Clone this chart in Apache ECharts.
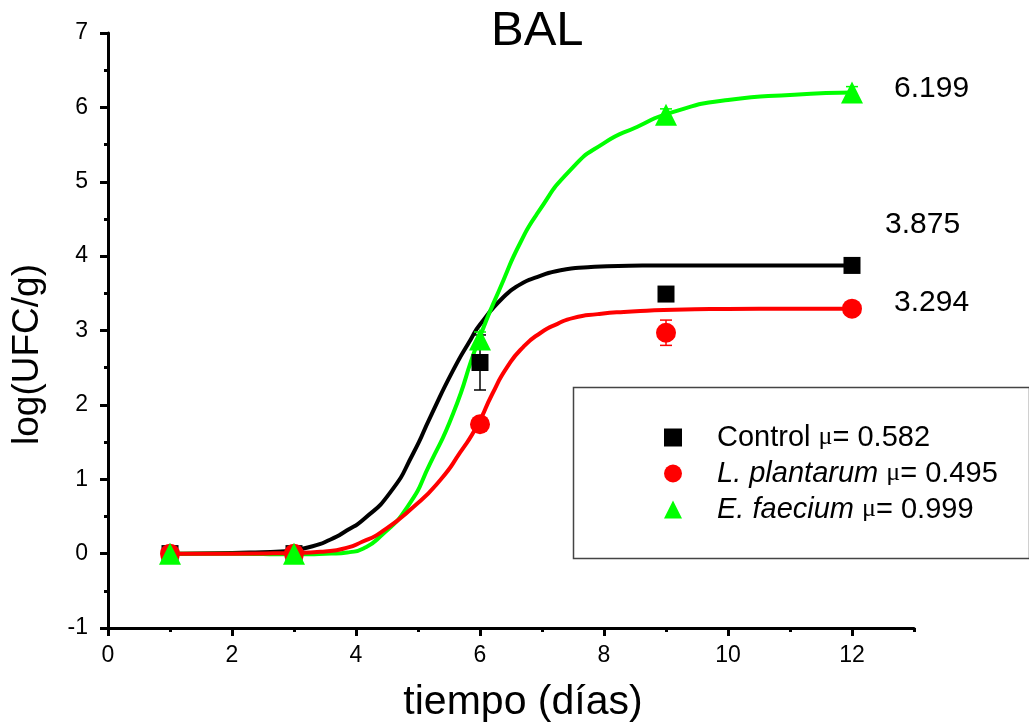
<!DOCTYPE html>
<html>
<head>
<meta charset="utf-8">
<script src="https://cdn.jsdelivr.net/npm/echarts@6/dist/echarts.min.js"></script>
<style>
  html, body { margin: 0; padding: 0; background: #fff; }
  #chart { width: 1029px; height: 725px; }
</style>
</head>
<body>
<div id="chart"></div>
<script>
// Sampling days and measured counts (mean ± error)
const days = [1, 3, 6, 9, 12];
const controlMean = [0.0, 0.0, 2.57, 3.49, 3.875];
const controlErr = [0.03, 0.03, 0.37, 0.05, 0.05];
const plantarumMean = [0.0, 0.0, 1.74, 2.97, 3.294];
const plantarumErr = [0.03, 0.03, 0.05, 0.17, 0.04];
const faeciumMean = [0.0, 0.0, 2.88, 5.9, 6.199];
const faeciumErr = [0.03, 0.03, 0.1, 0.08, 0.08];

// Fitted growth curves
const controlFitX = [1, 2, 2.78, 3.3, 3.59, 3.85, 4.12, 4.55, 4.93, 5.2, 5.57, 5.85, 6.0, 6.38, 6.65, 6.93, 7.3, 7.74, 8.4, 9.08, 10, 11, 12];
const controlFitY = [0, 0.01, 0.03, 0.1, 0.19, 0.31, 0.46, 0.82, 1.36, 1.84, 2.47, 2.88, 3.08, 3.45, 3.62, 3.72, 3.81, 3.85, 3.87, 3.875, 3.875, 3.875, 3.875];
const plantarumFitX = [1, 2, 3, 3.5, 3.86, 4.1, 4.39, 4.93, 5.36, 5.68, 5.96, 6.2, 6.44, 6.7, 6.98, 7.25, 7.51, 7.9, 8.32, 9.13, 10, 11, 12];
const plantarumFitY = [0, 0, 0.01, 0.03, 0.08, 0.16, 0.28, 0.63, 0.99, 1.36, 1.73, 2.15, 2.51, 2.78, 2.97, 3.09, 3.17, 3.22, 3.25, 3.28, 3.29, 3.294, 3.294];
const faeciumFitX = [1, 2, 3, 3.6, 3.9, 4.12, 4.39, 4.83, 5.2, 5.57, 5.96, 6.38, 6.65, 6.93, 7.46, 8.0, 8.54, 9.08, 10, 11.07, 12];
const faeciumFitY = [0, 0, -0.01, 0.0, 0.02, 0.07, 0.23, 0.63, 1.22, 1.89, 2.83, 3.68, 4.18, 4.58, 5.16, 5.52, 5.74, 5.93, 6.10, 6.17, 6.199];

// Specific growth rates shown in the legend
const seriesNames = ['Control', 'L. plantarum', 'E. faecium'];
const growthRates = ['0.582', '0.495', '0.999'];

// Axis ticks
const xMajorTicks = [0, 2, 4, 6, 8, 10, 12];
const xMinorTicks = [1, 3, 5, 7, 9, 11, 13];
const yTicks = [-1, 0, 1, 2, 3, 4, 5, 6, 7];

const FONT = 'Arial, "Liberation Sans", Helvetica, sans-serif';
const BLACK = '#000000', RED = '#ff0000', GREEN = '#00ff00';

const zip = (xs, ys) => xs.map((x, i) => [x, ys[i]]);
const zip3 = (xs, ys, es) => xs.map((x, i) => [x, ys[i], es[i]]);

function errorBars(name, data, color, z) {
  return {
    name: name + ' err',
    type: 'custom',
    z: z,
    data: data,
    renderItem: function (params, api) {
      const x = api.value(0), y = api.value(1), e = api.value(2);
      const top = api.coord([x, y + e]);
      const bot = api.coord([x, y - e]);
      const cap = 6;
      const style = { stroke: color, lineWidth: 1.5 };
      return {
        type: 'group',
        children: [
          { type: 'line', shape: { x1: top[0], y1: top[1], x2: bot[0], y2: bot[1] }, style: style },
          { type: 'line', shape: { x1: top[0] - cap, y1: top[1], x2: top[0] + cap, y2: top[1] }, style: style },
          { type: 'line', shape: { x1: bot[0] - cap, y1: bot[1], x2: bot[0] + cap, y2: bot[1] }, style: style }
        ]
      };
    }
  };
}

function fitCurve(name, xs, ys, color, z, labelOffset) {
  return {
    name: name,
    type: 'line',
    z: z,
    data: zip(xs, ys),
    smooth: 0.6,
    showSymbol: false,
    symbol: 'none',
    lineStyle: { color: color, width: 4 },
    itemStyle: { color: color },
    endLabel: {
      show: true,
      distance: 0,
      offset: labelOffset,
      formatter: p => String(p.value[1]),
      color: '#000',
      fontFamily: FONT,
      fontSize: 30
    },
    emphasis: { disabled: true }
  };
}

function markers(name, ys, color, symbol, size, z) {
  return {
    name: name,
    type: 'scatter',
    z: z,
    data: zip(days, ys),
    symbol: symbol,
    symbolSize: size,
    itemStyle: { color: color, opacity: 1 },
    emphasis: { disabled: true }
  };
}

const chart = echarts.init(document.getElementById('chart'), null, { renderer: 'canvas' });

const tickLabelStyle = { color: '#000', fontFamily: FONT, fontSize: 23 };

chart.setOption({
  animation: false,
  backgroundColor: '#fff',
  title: {
    text: 'BAL',
    left: 486,
    top: 2,
    textStyle: { color: '#000', fontFamily: FONT, fontSize: 49, fontWeight: 'normal' }
  },
  grid: { left: 108, top: 33, width: 806, height: 595, containLabel: false, outerBoundsMode: 'none' },
  graphic: [{
    type: 'rect',
    left: 571, top: 385,
    shape: { width: 456, height: 171 },
    style: { fill: 'none', stroke: '#444', lineWidth: 1.5 },
    z: 0
  }],
  legend: {
    orient: 'vertical',
    left: 664,
    top: 423,
    padding: 0,
    itemWidth: 18,
    itemHeight: 18,
    itemGap: 7,
    selectedMode: false,
    data: [
      { name: seriesNames[0], icon: 'rect' },
      { name: seriesNames[1], icon: 'circle' },
      { name: seriesNames[2], icon: 'triangle' }
    ],
    formatter: function (name) {
      const i = seriesNames.indexOf(name);
      const label = i === 0 ? '{n|' + name + '}' : '{it|' + name + '}';
      return '{sp| }' + label + '{n| }{mu|\u03bc}{n|= ' + growthRates[i] + '}';
    },
    textStyle: {
      color: '#000',
      fontFamily: FONT,
      fontSize: 29,
      rich: {
        sp: { width: 30, fontSize: 29, lineHeight: 28 },
        n: { fontFamily: FONT, fontSize: 29, lineHeight: 28, color: '#000' },
        it: { fontFamily: FONT, fontSize: 29, lineHeight: 28, fontStyle: 'italic', color: '#000' },
        mu: { fontFamily: '"Liberation Serif", "DejaVu Serif", serif', fontSize: 26, lineHeight: 28, color: '#000' }
      }
    }
  },
  xAxis: [{
    type: 'value',
    min: 0,
    max: 13,
    interval: 2,
    name: 'tiempo (días)',
    nameLocation: 'middle',
    nameGap: 54,
    nameTextStyle: { color: '#000', fontFamily: FONT, fontSize: 41, padding: [0, 0, 0, 24] },
    splitLine: { show: false },
    axisLine: { show: true, onZero: false, lineStyle: { color: '#000', width: 3 } },
    axisTick: { show: true, inside: false, length: 8, lineStyle: { width: 3, color: '#000' }, customValues: xMajorTicks },
    axisLabel: { show: true, margin: 16, customValues: xMajorTicks, ...tickLabelStyle }
  }, {
    type: 'value',
    gridIndex: 0,
    position: 'bottom',
    min: 0,
    max: 13,
    interval: 1,
    splitLine: { show: false },
    axisLine: { show: false, onZero: false },
    axisTick: { show: true, inside: false, length: 4, lineStyle: { width: 3, color: '#000' }, customValues: xMinorTicks },
    axisLabel: { show: false }
  }],
  yAxis: {
    type: 'value',
    min: -1,
    max: 7,
    interval: 1,
    name: 'log(UFC/g)',
    nameLocation: 'middle',
    nameGap: 62,
    nameTextStyle: { color: '#000', fontFamily: FONT, fontSize: 37, padding: [0, 48, 0, 0] },
    splitLine: { show: false },
    axisLine: { show: true, onZero: false, lineStyle: { color: '#000', width: 3 } },
    axisTick: { show: true, inside: false, length: 8, lineStyle: { width: 3, color: '#000' } },
    minorTick: { show: true, splitNumber: 2, length: 4, lineStyle: { width: 3, color: '#000' } },
    axisLabel: { show: true, margin: 20, formatter: v => (yTicks.indexOf(v) >= 0 ? String(v) : ''), ...tickLabelStyle }
  },
  series: [
    fitCurve('Control fit', controlFitX, controlFitY, BLACK, 2, [33, -41]),
    fitCurve('E. faecium fit', faeciumFitX, faeciumFitY, GREEN, 3, [42, -4]),
    fitCurve('L. plantarum fit', plantarumFitX, plantarumFitY, RED, 4, [42, -6]),
    errorBars('Control', zip3(days, controlMean, controlErr), BLACK, 5),
    errorBars('L. plantarum', zip3(days, plantarumMean, plantarumErr), RED, 5),
    errorBars('E. faecium', zip3(days, faeciumMean, faeciumErr), GREEN, 5),
    markers(seriesNames[0], controlMean, BLACK, 'rect', 17, 6),
    markers(seriesNames[1], plantarumMean, RED, 'circle', 20, 7),
    markers(seriesNames[2], faeciumMean, GREEN, 'triangle', 22, 8)
  ]
});
</script>
</body>
</html>
